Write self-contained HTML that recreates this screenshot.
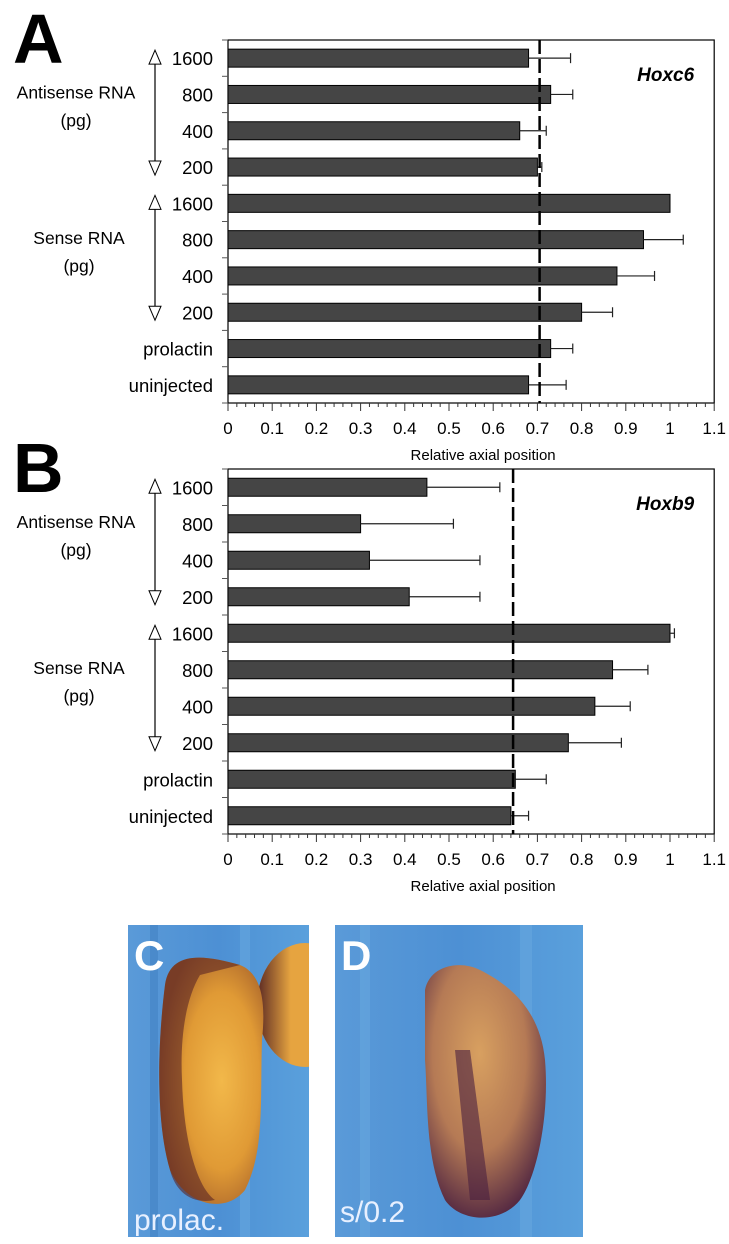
<!DOCTYPE html>
<html><head><meta charset="utf-8"><style>
body{margin:0;background:#fff;width:729px;height:1244px;overflow:hidden;font-family:"Liberation Sans",sans-serif}
svg{position:absolute;left:0;top:0}
</style></head><body>
<svg id="main" width="729" height="1244" viewBox="0 0 729 1244">
<defs>
<clipPath id="clipC"><rect x="128" y="925" width="181" height="312"/></clipPath>
<clipPath id="clipD"><rect x="335" y="925" width="248" height="312"/></clipPath>
<radialGradient id="embC" cx="0.6" cy="0.5" r="0.6"><stop offset="0" stop-color="#f2b84a"/><stop offset="0.6" stop-color="#e09a35"/><stop offset="1" stop-color="#a5602a"/></radialGradient>
<linearGradient id="embCdark" x1="0" y1="0" x2="1" y2="0"><stop offset="0" stop-color="#4a1a20" stop-opacity="0.9"/><stop offset="0.35" stop-color="#4a1a20" stop-opacity="0"/></linearGradient>
<radialGradient id="embD" cx="0.45" cy="0.35" r="0.7"><stop offset="0" stop-color="#d8a060"/><stop offset="0.55" stop-color="#b57a55"/><stop offset="1" stop-color="#4a2040"/></radialGradient>
<linearGradient id="bg" x1="0" y1="0" x2="1" y2="0"><stop offset="0" stop-color="#5a9ad8"/><stop offset="0.5" stop-color="#4d90d4"/><stop offset="1" stop-color="#5aa0dc"/></linearGradient>
</defs>
<g id="chartA"></g>
<g id="chartB"></g>
<g clip-path="url(#clipC)">
<rect x="128" y="925" width="181" height="312" fill="url(#bg)"/>
<rect x="150" y="925" width="8" height="312" fill="#3d7ec0" opacity="0.5"/>
<rect x="240" y="925" width="10" height="312" fill="#6aaae0" opacity="0.5"/>
<ellipse cx="305" cy="1005" rx="48" ry="62" fill="#e6a440"/>
<ellipse cx="305" cy="1005" rx="48" ry="62" fill="url(#embCdark)"/>
<path d="M165,985 C170,950 205,955 240,965 C265,975 265,1010 262,1040 C260,1100 265,1150 245,1190 C225,1215 185,1205 170,1170 C155,1120 158,1040 165,985 Z" fill="url(#embC)"/>
<path d="M165,985 C170,950 205,955 240,965 L200,975 C185,1000 180,1040 182,1080 C184,1150 200,1190 215,1200 C190,1205 175,1190 170,1170 C155,1120 158,1040 165,985 Z" fill="#5a2525" opacity="0.6"/>
<text x="134" y="970" font-size="42" font-weight="bold" fill="#fff">C</text>
<text x="134" y="1230" font-size="30" fill="#e8f0ff">prolac.</text>
</g>
<g clip-path="url(#clipD)">
<rect x="335" y="925" width="248" height="312" fill="url(#bg)"/>
<rect x="360" y="925" width="10" height="312" fill="#6aaae0" opacity="0.5"/>
<rect x="520" y="925" width="12" height="312" fill="#6aaae0" opacity="0.5"/>
<path d="M425,990 C430,965 460,960 480,970 C510,985 540,1010 545,1060 C550,1120 535,1180 520,1200 C500,1225 460,1222 445,1200 C425,1160 428,1100 425,1060 Z" fill="url(#embD)"/>
<path d="M455,1050 L470,1050 L490,1200 L470,1200 Z" fill="#4a2040" opacity="0.6"/>
<text x="341" y="970" font-size="42" font-weight="bold" fill="#fff">D</text>
<text x="340" y="1222" font-size="30" fill="#e8f0ff">s/0.2</text>
</g>
</svg>
<script>
const categories=["1600","800","400","200","1600","800","400","200","prolactin","uninjected"];
const valuesA=[0.68,0.73,0.66,0.70,1.0,0.94,0.88,0.80,0.73,0.68];
const errorsA=[0.095,0.05,0.06,0.01,0,0.09,0.085,0.07,0.05,0.085];
const refA=0.705;
const valuesB=[0.45,0.30,0.32,0.41,1.0,0.87,0.83,0.77,0.65,0.64];
const errorsB=[0.165,0.21,0.25,0.16,0.01,0.08,0.08,0.12,0.07,0.04];
const refB=0.645;
const xTicks=["0","0.1","0.2","0.3","0.4","0.5","0.6","0.7","0.8","0.9","1","1.1"];
const NS="http://www.w3.org/2000/svg";
function mk(p,tag,a,txt){const e=document.createElementNS(NS,tag);for(const k in a)e.setAttribute(k,a[k]);if(txt!=null)e.textContent=txt;p.appendChild(e);return e;}
function draw(g,vals,errs,ref,top,bottom,x0,letter,gene){
  const x1=x0+442*1.1;
  const xs=v=>x0+v*442;
  const rowH=(bottom-top)/vals.length;
  const ys=i=>top+rowH*(i+0.5);
  let t=mk(g,'text',{x:13,y:top+23,'font-size':70,'font-weight':'bold','font-family':'Liberation Sans'},letter);
  
  let f=mk(g,'rect',{x:x0,y:top,width:x1-x0,height:bottom-top,fill:'none',stroke:'#000','stroke-width':1.2});
  
  t=mk(g,'text',{x:x1-20,y:top+41,'font-size':19,'font-weight':'bold','font-style':'italic','text-anchor':'end'},gene);
  
  for(let i=0;i<=vals.length;i++){mk(g,'line',{x1:x0-6,x2:x0,y1:top+rowH*i,y2:top+rowH*i,stroke:'#555'});}
  vals.forEach((v,i)=>{
    const y=ys(i);
    const b=mk(g,'rect',{x:x0,y:y-9,width:xs(v)-x0,height:18,fill:'#454545',stroke:'#000','stroke-width':1});
    
    
    if(errs[i]>0){const xe=xs(v+errs[i]);
      mk(g,'line',{x1:xs(v),x2:xe,y1:y,y2:y,stroke:'#222','stroke-width':1.2});
      mk(g,'line',{x1:xe,x2:xe,y1:y-5,y2:y+5,stroke:'#222','stroke-width':1.2});}
    const l=mk(g,'text',{x:x0-15,y:y+7,'font-size':18.5,'text-anchor':'end'},categories[i]);
    
    
  });
  const d=mk(g,'line',{x1:xs(ref),x2:xs(ref),y1:top,y2:bottom,stroke:'#000','stroke-width':2.5,'stroke-dasharray':'14,5'});
  
  for(let k=0;k<=55;k++){const x=x0+k*442*0.02;mk(g,'line',{x1:x,x2:x,y1:bottom,y2:bottom+(k%5==0?8:4),stroke:'#333'});}
  xTicks.forEach((s,k)=>{const tt=mk(g,'text',{x:xs(k*0.1),y:bottom+31,'font-size':17,'text-anchor':'middle'},s);
    });
  t=mk(g,'text',{x:(x0+x1)/2+12,y:bottom+57,'font-size':15,'text-anchor':'middle'},'Relative axial position');
  
  [[0,'Antisense RNA'],[4,'Sense RNA']].forEach(([s,name])=>{
    const ya=ys(s),yb=ys(s+3);const ax=155;
    const cx=s==0?76:79;
    let a=mk(g,'text',{x:cx,y:(ya+yb)/2-14,'font-size':17.5,'text-anchor':'middle'},name);
    
    a=mk(g,'text',{x:cx,y:(ya+yb)/2+14,'font-size':17.5,'text-anchor':'middle'},'(pg)');
    
    mk(g,'line',{x1:ax,x2:ax,y1:ya+2,y2:yb-2,stroke:'#000','stroke-width':1.2});
    mk(g,'path',{d:`M${ax-6},${ya+6} L${ax+6},${ya+6} L${ax},${ya-8} Z`,fill:'#fff',stroke:'#000'});
    mk(g,'path',{d:`M${ax-6},${yb-6} L${ax+6},${yb-6} L${ax},${yb+8} Z`,fill:'#fff',stroke:'#000'});
  });
}
draw(document.getElementById('chartA'),valuesA,errorsA,refA,40,403,228,'A','Hoxc6');
draw(document.getElementById('chartB'),valuesB,errorsB,refB,469,834,228,'B','Hoxb9');
</script>
</body></html>
